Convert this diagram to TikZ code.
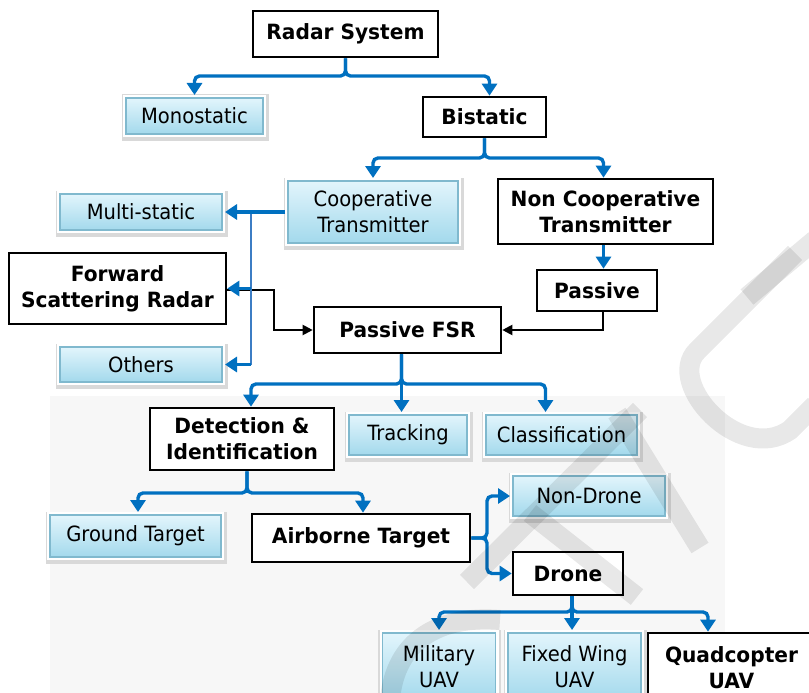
\documentclass[tikz,border=0pt]{standalone}
\usepackage{fontspec}
\setmainfont{DejaVu Sans}[FakeStretch=0.93, BoldFeatures={FakeStretch=0.96}]
\usetikzlibrary{arrows.meta,calc}

\definecolor{linkblue}{HTML}{0070C0}
\definecolor{sideblue}{HTML}{3C7DC4}
\definecolor{boxtop}{HTML}{E2F5FC}
\definecolor{boxbot}{HTML}{A3D9EC}
\definecolor{boxedge}{HTML}{80B9CE}

\tikzset{
  lbl/.style={align=center, inner sep=0pt, font=\fontsize{21}{26}\selectfont},
  plainbox/.style={lbl, font=\fontsize{21}{26}\selectfont\bfseries,
    draw=black, line width=2.6pt, fill=white},
  tintbox/.style={lbl, draw=boxedge, line width=1.2pt,
    top color=boxtop, bottom color=boxbot, outer sep=3pt,
    preaction={draw=black!15, line width=10pt, transform canvas={yshift=-1.5pt, xshift=0.5pt}},
    preaction={draw=white, fill=white, line width=6pt}},
  link/.style={draw=linkblue, line width=3.4pt, rounded corners=5pt,
    -{Triangle[length=12pt, width=15pt]}},
  sidelink/.style={draw=sideblue, line width=2.6pt},
  blink/.style={draw=black, line width=2pt, -{Triangle[length=10pt, width=10pt]}},
  wmark/.style={draw=black, opacity=0.09, line width=20pt},
}

\begin{document}
\begin{tikzpicture}[x=1pt, y=-1pt]
\useasboundingbox (0,0) rectangle (809,693);
\clip (0,0) rectangle (809,693);
\fill[white] (0,0) rectangle (809,693);
% faint backdrop panel
\fill[black!3] (50,396) rectangle (725,693);

% boxes
\node[plainbox, minimum width=185pt, minimum height=46pt] (radar) at (345.5,34) {Radar System};
\node[tintbox, minimum width=137pt, minimum height=36pt] (mono) at (194.5,116) {Monostatic};
\node[plainbox, minimum width=123pt, minimum height=40pt] (bist) at (484.5,117) {Bistatic};
\node[tintbox, minimum width=170pt, minimum height=62pt] (coop) at (373,212) {Cooperative\\Transmitter};
\node[plainbox, minimum width=215pt, minimum height=65pt] (noncoop) at (605.5,211.5) {Non Cooperative\\Transmitter};
\node[tintbox, minimum width=162pt, minimum height=36pt] (multi) at (141,212) {Multi-static};
\node[plainbox, minimum width=217pt, minimum height=71pt] (fsr) at (117.5,288.5) {Forward\\Scattering Radar};
\node[tintbox, minimum width=162pt, minimum height=35pt] (others) at (141,364.5) {Others};
\node[plainbox, minimum width=120pt, minimum height=41pt] (passive) at (597,290.5) {Passive};
\node[plainbox, minimum width=187pt, minimum height=46pt] (pfsr) at (407.5,330) {Passive FSR};
\node[plainbox, minimum width=184pt, minimum height=62pt] (det) at (242,439) {Detection \&\\Identification};
\node[tintbox, minimum width=118pt, minimum height=40pt] (track) at (408,435) {Tracking};
\node[tintbox, minimum width=151pt, minimum height=40pt] (cls) at (561.5,435) {Classification};
\node[tintbox, minimum width=152pt, minimum height=40pt] (nd) at (589,496) {Non-Drone};
\node[tintbox, minimum width=171pt, minimum height=42pt] (ground) at (135.5,536) {Ground Target};
\node[plainbox, minimum width=218pt, minimum height=48pt] (airb) at (361,538) {Airborne Target};
\node[plainbox, minimum width=110pt, minimum height=43pt] (drone) at (568,573.5) {Drone};
\node[tintbox, minimum width=113pt, minimum height=68pt] (mil) at (439,667) {Military\\UAV};
\node[tintbox, minimum width=133pt, minimum height=68pt] (fixed) at (574.5,667) {Fixed Wing\\UAV};
\node[plainbox, minimum width=167pt, minimum height=69pt] (quad) at (731.5,667.5) {Quadcopter\\UAV};

% bend levels
\coordinate (r1) at (0,76);
\coordinate (r2) at (0,158);
\coordinate (r3) at (0,384);
\coordinate (r4) at (0,493);
\coordinate (r5) at (0,612);
\coordinate (vx) at (251,0);
\coordinate (ax) at (487,0);

% radar system split
\coordinate (bT) at ($(bist.north)+(5,0)$);
\draw[link] (radar.south) |- (mono.north |- r1) -- (mono.north);
\draw[link] (radar.south) |- (bT |- r1) -- (bT);

% bistatic split
\coordinate (nT) at ($(noncoop.north)+(-2,0)$);
\draw[link] (bist.south) |- (coop.north |- r2) -- (coop.north);
\draw[link] (bist.south) |- (nT |- r2) -- (nT);
\coordinate (nB) at ($(noncoop.south)+(-2,0)$);
\draw[link] (nB) -- (nB |- passive.north);

% black feeds into passive FSR
\draw[blink] ([yshift=-1.5pt]fsr.east) -- ++(47,0) |- (pfsr.west);
\draw[blink] ([xshift=6pt]passive.south) |- (pfsr.east);

% cooperative transmitter fan-out
\draw[sidelink] (vx |- multi.east) -- (vx |- others.east);
\draw[link] (coop.west) -- (multi.east);
\draw[link] (vx |- fsr.east) -- (fsr.east);
\draw[link] (vx |- others.east) -- (others.east);

% passive FSR split
\coordinate (s3) at ($(pfsr.south)+(-6,0)$);
\coordinate (dT) at ($(det.north)+(9,0)$);
\coordinate (cT) at ($(cls.north)+(-16,0)$);
\draw[link] (s3) |- (dT |- r3) -- (dT);
\draw[link] (s3) |- (cT |- r3) -- (cT);
\draw[link] (s3) -- (s3 |- track.north);

% detection split
\coordinate (s4) at ($(det.south)+(5,0)$);
\coordinate (gT) at ($(ground.north)+(2.5,0)$);
\coordinate (aT) at ($(airb.north)+(2,0)$);
\draw[link] (s4) |- (gT |- r4) -- (gT);
\draw[link] (s4) |- (aT |- r4) -- (aT);

% airborne split
\draw[link] (airb.east) -| (ax |- nd.west) -- (nd.west);
\draw[link] (airb.east) -| (ax |- drone.west) -- (drone.west);

% drone split
\coordinate (s5) at ($(drone.south)+(4,0)$);
\coordinate (qT) at ($(quad.north)+(-23.5,0)$);
\draw[link] (s5) |- (mil.north |- r5) -- (mil.north);
\draw[link] (s5) |- (qT |- r5) -- (qT);
\draw[link] (s5) -- (s5 |- fixed.north);

% faint diagonal watermark strokes
\draw[wmark] (795,253) -- (697,351) .. controls (665,383) and (740,465) .. (790,430) -- (815,405);
\draw[wmark] (747,297) -- (815,240);
\draw[wmark] (467,582) -- (640,410);
\draw[wmark] (617,413) -- (700,548);
\draw[wmark] (530,513) -- (637,597);
\draw[wmark] (390,700) .. controls (395,640) and (440,615) .. (500,620);
\end{tikzpicture}
\end{document}
